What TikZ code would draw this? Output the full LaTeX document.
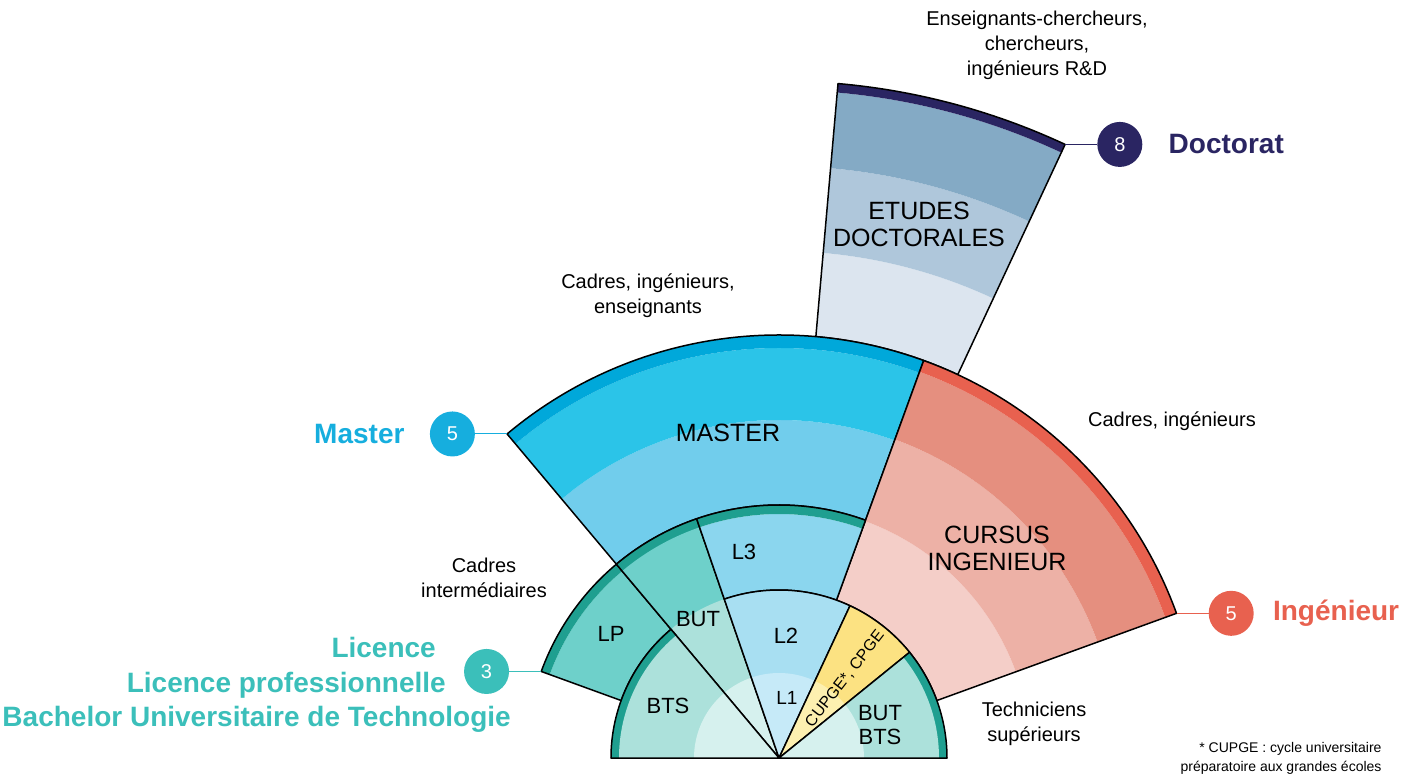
\documentclass[tikz,border=0pt]{standalone}
\usepackage{fontspec}
\setmainfont{Liberation Sans}
\usetikzlibrary{positioning}

\definecolor{nuit}{HTML}{2A2562}
\definecolor{docA}{HTML}{84AAC5}
\definecolor{docB}{HTML}{AFC7DB}
\definecolor{docC}{HTML}{DCE5EF}
\definecolor{masA}{HTML}{00A8DA}
\definecolor{masB}{HTML}{2BC4E8}
\definecolor{masC}{HTML}{71CDEC}
\definecolor{ingA}{HTML}{E8614F}
\definecolor{ingB}{HTML}{E58F7F}
\definecolor{ingC}{HTML}{EDB1A6}
\definecolor{ingD}{HTML}{F4CEC8}
\definecolor{turA}{HTML}{1F9F90}
\definecolor{turB}{HTML}{6ED0CA}
\definecolor{turC}{HTML}{ACE1DB}
\definecolor{turD}{HTML}{D6F1EE}
\definecolor{bleuLtrois}{HTML}{8BD6EE}
\definecolor{bleuLdeux}{HTML}{A8DFF2}
\definecolor{bleuLun}{HTML}{C6EAF8}
\definecolor{jauneA}{HTML}{FCE282}
\definecolor{jauneB}{HTML}{FDF0B0}
\definecolor{turquoise}{HTML}{3BBFBA}
\definecolor{cyanM}{HTML}{16AEDE}

% secteur : style, angle debut, angle fin, rayon int., rayon ext.
\newcommand{\secteur}[5]{\path[#1] (#2:#4pt) arc[start angle=#2,end angle=#3,radius=#4pt] -- (#3:#5pt) arc[start angle=#3,end angle=#2,radius=#5pt] -- cycle;}
% pointe : style, angle debut, angle fin, rayon
\newcommand{\pointe}[4]{\path[#1] (0,0) -- (#2:#4pt) arc[start angle=#2,end angle=#3,radius=#4pt] -- cycle;}

\tikzset{
	contour/.style={draw=black,line width=1.5pt,line join=round},
	etiq/.style={align=center,font=\fontsize{25}{27}\selectfont},
	petit/.style={align=center,font=\fontsize{22}{24}\selectfont},
	metier/.style={align=center,font=\fontsize{20}{25}\selectfont},
	pastille/.style={circle,minimum size=45pt,inner sep=0pt,text=white,font=\fontsize{20}{20}\selectfont},
	titre/.style={font=\bfseries\fontsize{28}{30}\selectfont,inner sep=0pt},
	liaison/.style={line width=1pt},
}

\begin{document}
\begin{tikzpicture}[x=1pt,y=1pt]
						\useasboundingbox (-779,-18) rectangle (636,758);
						% Doctorat
						\secteur{fill=docC}{65}{85}{423}{507}
						\secteur{fill=docB}{65}{85}{507}{592}
						\secteur{fill=docA}{65}{85}{592}{668}
						\secteur{fill=nuit}{65}{85}{668}{677}
						\secteur{contour}{65}{85}{423}{677}
						% Master
						\secteur{fill=masC}{70}{130}{253}{338}
						\secteur{fill=masB}{70}{130}{338}{410}
						\secteur{fill=masA}{70}{130}{410}{423}
						\secteur{contour}{70}{130}{253}{423}
						% Cursus ingenieur
						\secteur{fill=ingD}{20}{70}{168}{252}
						\secteur{fill=ingC}{20}{70}{252}{339}
						\secteur{fill=ingB}{20}{70}{339}{411}
						\secteur{fill=ingA}{20}{70}{411}{423}
						\secteur{contour}{20}{70}{168}{423}
						% LP, BUT, L3
						\secteur{fill=turB}{130}{160}{168}{244}
						\secteur{fill=turA}{130}{160}{244}{253}
						\secteur{contour}{130}{160}{168}{253}
						\pointe{fill=turA}{109}{130}{253}
						\pointe{fill=turB}{109}{130}{244}
						\pointe{fill=turC}{109}{130}{168}
						\pointe{fill=turD}{109}{130}{85}
						\pointe{contour}{109}{130}{253}
						\secteur{fill=bleuLtrois}{70}{109}{168}{244}
						\secteur{fill=turA}{70}{109}{244}{253}
						\secteur{contour}{70}{109}{168}{253}
						% BTS, L1/L2, CUPGE, BUT BTS
						\pointe{fill=turA}{130}{180}{168}
						\pointe{fill=turC}{130}{180}{160}
						\pointe{fill=turD}{130}{180}{85}
						\pointe{contour}{130}{180}{168}
						\pointe{fill=bleuLdeux}{65}{109}{168}
						\pointe{fill=bleuLun}{65}{109}{85}
						\pointe{contour}{65}{109}{168}
						\pointe{fill=jauneA}{39}{65}{168}
						\pointe{fill=jauneB}{39}{65}{85}
						\pointe{contour}{39}{65}{168}
						\pointe{fill=turA}{0}{39}{168}
						\pointe{fill=turC}{0}{39}{160}
						\pointe{fill=turD}{0}{39}{85}
						\pointe{contour}{0}{39}{168}

						% Textes des secteurs
						\node[etiq] (tdoc) at (140,534) {ETUDES\\DOCTORALES};
						\node[etiq] (tmas) at (-51,325) {MASTER};
						\node[etiq] (ting) at (218,210) {CURSUS\\INGENIEUR};
						\node[petit] (tltrois) at (-35,206) {L3};
						\node[petit] (tlp) at (-168,124) {LP};
						\node[petit] (tbut) at (-81,139) {BUT};
						\node[petit] (tldeux) at (7,122) {L2};
						\node[petit,font=\fontsize{19}{20}\selectfont] (tlun) at (8,60) {L1};
						\node[petit] (tbts) at (-111,52) {BTS};
						\node[petit,font=\fontsize{16}{20}\selectfont,rotate=52,inner sep=0pt] (tcpge) at (66,79) {CUPGE*, CPGE};
						\node[petit] (tbutbts) at (101,33) {BUT\\BTS};

						% Debouches
						\node[metier] (mdoc) at (258,713) {Enseignants-chercheurs,\\chercheurs,\\ingénieurs R\&D};
						\node[metier] (mmas) at (-131,462) {Cadres, ingénieurs,\\enseignants};
						\node[metier] (ming) at (393,337) {Cadres, ingénieurs};
						\node[metier] (mlic) at (-295,180) {Cadres\\intermédiaires};
						\node[metier] (mtech) at (255,34) {Techniciens\\supérieurs};
						\node[anchor=east,align=right,font=\fontsize{14}{19}\selectfont] (note) at (606,0) {* CUPGE : cycle universitaire\\préparatoire aux grandes écoles};

						% Pastilles
						\coordinate (cdoc) at (65:677pt);
						\coordinate (cmas) at (130:423pt);
						\coordinate (cing) at (20:423pt);
						\coordinate (clic) at (160:253pt);
						\node[pastille,fill=nuit,right=32pt of cdoc] (pdoc) {8};
						\node[pastille,fill=cyanM,left=32pt of cmas] (pmas) {5};
						\node[pastille,fill=ingA,right=32pt of cing] (ping) {5};
						\node[pastille,fill=turquoise,left=32pt of clic] (plic) {3};
						\draw[liaison,nuit] (cdoc) -- (pdoc);
						\draw[liaison,cyanM] (cmas) -- (pmas);
						\draw[liaison,ingA] (cing) -- (ping);
						\draw[liaison,turquoise] (clic) -- (plic);
						\node[titre,text=nuit,right=26pt of pdoc] (ndoc) {Doctorat};
						\node[titre,text=cyanM,left=25pt of pmas] (nmas) {Master};
						\node[titre,text=ingA,right=19pt of ping] (ning) {Ingénieur};
						\node[titre,text=turquoise,anchor=east] (nlic) at (-343,111) {Licence};
						\node[titre,text=turquoise,anchor=east] (nlp) at (-333,73) {Licence professionnelle};
						\node[titre,text=turquoise,anchor=east] (nbut) at (-268,39) {Bachelor Universitaire de Technologie};
\end{tikzpicture}
\end{document}
